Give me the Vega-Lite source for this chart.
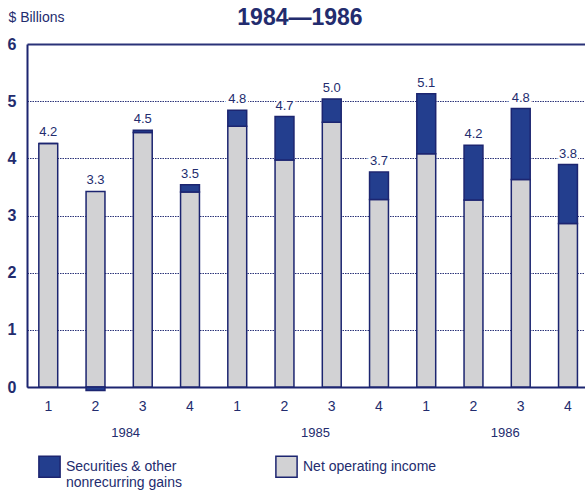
{
  "$schema": "https://vega.github.io/schema/vega-lite/v6.json",
  "width": 558,
  "height": 343,
  "autosize": {"type": "none"},
  "padding": {"left": 27, "top": 44, "right": 0, "bottom": 108},
  "background": "white",
  "config": {"view": {"stroke": null}, "font": "Liberation Sans"},
  "title": {"text": "1984—1986", "fontSize": 23, "fontWeight": "bold", "color": "#232c6e", "anchor": "middle", "frame": "group", "baseline": "middle", "offset": 0, "dy": 31, "dx": -6},
  "datasets": {
    "bars": [
      {"key": "1984-1", "series": "Net operating income", "value": 4.26},
      {"key": "1984-1", "series": "Securities & other nonrecurring gains", "value": 0.0},
      {"key": "1984-2", "series": "Net operating income", "value": 3.42},
      {"key": "1984-2", "series": "Securities & other nonrecurring gains", "value": -0.06},
      {"key": "1984-3", "series": "Net operating income", "value": 4.45},
      {"key": "1984-3", "series": "Securities & other nonrecurring gains", "value": 0.04},
      {"key": "1984-4", "series": "Net operating income", "value": 3.41},
      {"key": "1984-4", "series": "Securities & other nonrecurring gains", "value": 0.13},
      {"key": "1985-1", "series": "Net operating income", "value": 4.56},
      {"key": "1985-1", "series": "Securities & other nonrecurring gains", "value": 0.28},
      {"key": "1985-2", "series": "Net operating income", "value": 3.97},
      {"key": "1985-2", "series": "Securities & other nonrecurring gains", "value": 0.76},
      {"key": "1985-3", "series": "Net operating income", "value": 4.63},
      {"key": "1985-3", "series": "Securities & other nonrecurring gains", "value": 0.41},
      {"key": "1985-4", "series": "Net operating income", "value": 3.28},
      {"key": "1985-4", "series": "Securities & other nonrecurring gains", "value": 0.48},
      {"key": "1986-1", "series": "Net operating income", "value": 4.08},
      {"key": "1986-1", "series": "Securities & other nonrecurring gains", "value": 1.05},
      {"key": "1986-2", "series": "Net operating income", "value": 3.27},
      {"key": "1986-2", "series": "Securities & other nonrecurring gains", "value": 0.96},
      {"key": "1986-3", "series": "Net operating income", "value": 3.63},
      {"key": "1986-3", "series": "Securities & other nonrecurring gains", "value": 1.24},
      {"key": "1986-4", "series": "Net operating income", "value": 2.86},
      {"key": "1986-4", "series": "Securities & other nonrecurring gains", "value": 1.03}
    ],
    "totals": [
      {"key": "1984-1", "total": 4.26, "label": "4.2"},
      {"key": "1984-2", "total": 3.42, "label": "3.3"},
      {"key": "1984-3", "total": 4.49, "label": "4.5"},
      {"key": "1984-4", "total": 3.54, "label": "3.5"},
      {"key": "1985-1", "total": 4.84, "label": "4.8"},
      {"key": "1985-2", "total": 4.73, "label": "4.7"},
      {"key": "1985-3", "total": 5.04, "label": "5.0"},
      {"key": "1985-4", "total": 3.76, "label": "3.7"},
      {"key": "1986-1", "total": 5.13, "label": "5.1"},
      {"key": "1986-2", "total": 4.23, "label": "4.2"},
      {"key": "1986-3", "total": 4.87, "label": "4.8"},
      {"key": "1986-4", "total": 3.89, "label": "3.8"}
    ],
    "years": [{"year": "1984"}, {"year": "1985"}, {"year": "1986"}]
  },
  "layer": [
    {
      "layer": [
        {
          "data": {"name": "bars"},
          "mark": {"type": "bar", "stroke": "#1c2570", "strokeWidth": 1.5},
          "encoding": {
            "x": {"field": "key", "type": "ordinal", "sort": null,
              "scale": {"paddingInner": 0.6, "paddingOuter": 0.205, "align": 0.61},
              "axis": {"orient": "bottom", "title": null, "labelAngle": 0, "labelExpr": "substring(datum.label, 5)", "ticks": false, "domain": true, "domainColor": "#1c2570", "domainWidth": 2, "labelFontSize": 14, "labelColor": "#232c6e", "labelPadding": 19, "labelBaseline": "middle", "labelFontWeight": "normal"}},
            "y": {"field": "value", "type": "quantitative", "stack": "zero",
              "scale": {"domain": [0, 6], "nice": false},
              "axis": {"values": [0, 1, 2, 3, 4, 5, 6], "format": "d", "title": "$ Billions", "titleAngle": 0, "titleAlign": "left", "titleBaseline": "middle", "titleX": -19, "titleY": -27, "titleFontSize": 14, "titleFontWeight": "normal", "titleColor": "#232c6e",
                "labelFontSize": 16, "labelFontWeight": "bold", "labelColor": "#232c6e", "labelPadding": 11, "ticks": false, "domainColor": "#1c2570", "domainWidth": 2,
                "grid": true, "gridColor": "#2a3278", "gridDash": {"condition": {"test": "datum.value == 6", "value": []}, "value": [1.5, 1]}, "gridWidth": {"condition": {"test": "datum.value == 6", "value": 2}, "value": 1}}},
            "color": {"field": "series", "type": "nominal",
              "scale": {"domain": ["Securities & other nonrecurring gains", "Net operating income"], "range": ["#233e8e", "#d2d2d4"]},
              "legend": {"title": null, "orient": "none", "legendX": 11, "legendY": 411, "direction": "horizontal", "columns": 2, "columnPadding": 90, "padding": 0,
                "symbolType": "square", "symbolSize": 450, "symbolStrokeColor": "#1c2570", "symbolStrokeWidth": 1.5, "symbolOpacity": 1,
                "labelFontSize": 14, "labelColor": "#232c6e", "labelOffset": 5, "labelLimit": 300, "labelBaseline": "middle",
                "labelExpr": "datum.label == 'Net operating income' ? ['Net operating income', ''] : ['Securities & other', 'nonrecurring gains']"}},
            "order": {"field": "series", "sort": "ascending"}
          }
        },
        {
          "data": {"name": "totals"},
          "mark": {"type": "text", "baseline": "bottom", "dy": -4, "fontSize": 13, "stroke": "white", "strokeWidth": 5, "fill": "white"},
          "encoding": {
            "x": {"field": "key", "type": "ordinal", "sort": null},
            "y": {"field": "total", "type": "quantitative"},
            "text": {"field": "label"}
          }
        },
        {
          "data": {"name": "totals"},
          "mark": {"type": "text", "baseline": "bottom", "dy": -4, "fontSize": 13, "color": "#232c6e"},
          "encoding": {
            "x": {"field": "key", "type": "ordinal", "sort": null},
            "y": {"field": "total", "type": "quantitative"},
            "text": {"field": "label"}
          }
        }
      ]
    },
    {
      "data": {"name": "years"},
      "mark": {"type": "point", "opacity": 0},
      "encoding": {
        "x": {"field": "year", "type": "ordinal",
          "scale": {"type": "point", "padding": 0.47, "align": 0.55},
          "axis": {"orient": "bottom", "title": null, "domain": false, "ticks": false, "labelAngle": 0, "labelFontSize": 13, "labelColor": "#232c6e", "labelPadding": 45, "labelBaseline": "middle"}}
      }
    }
  ],
  "resolve": {"scale": {"x": "independent"}, "axis": {"x": "independent"}}
}
